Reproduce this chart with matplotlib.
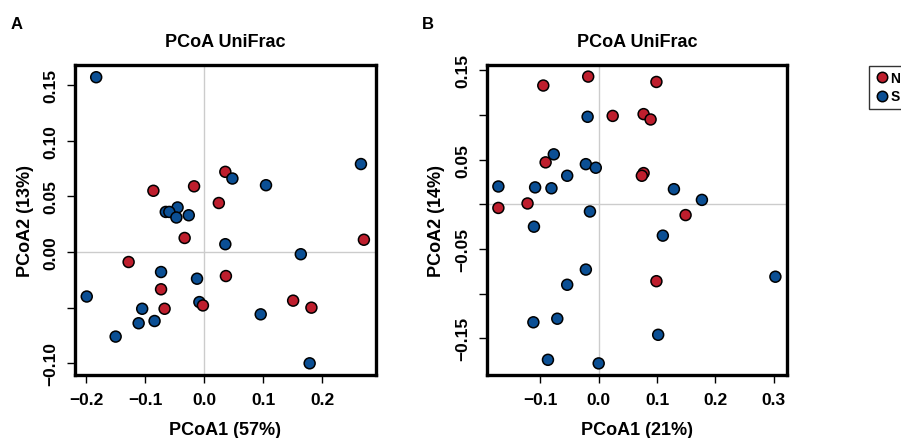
import matplotlib.pyplot as plt

plt.rcParams['font.family'] = ['Liberation Sans', 'DejaVu Sans']
plt.rcParams['font.weight'] = 'bold'

red = "#BE1E2D"
blue = "#0B4F94"

# panel A, points in plotting order (S = blue, N = red)
a_x = [0.036, -0.017, -0.086, 0.025, -0.033, 0.271, -0.128, 0.037, -0.073, 0.151, -0.067, 0.182,
       -0.183, 0.266, 0.048, 0.105, -0.045, -0.065, -0.059, -0.047, -0.026, 0.036, 0.164,
       -0.073, -0.012, -0.199, -0.008, -0.105, 0.096, -0.111, -0.084, -0.150, 0.179,
       -0.002]
a_y = [0.072, 0.059, 0.055, 0.044, 0.0126, 0.011, -0.009, -0.0216, -0.0335, -0.0437, -0.051, -0.050,
       0.157, 0.079, 0.066, 0.060, 0.040, 0.036, 0.036, 0.031, 0.033, 0.007, -0.002,
       -0.018, -0.024, -0.040, -0.045, -0.051, -0.056, -0.064, -0.062, -0.076, -0.100,
       -0.048]
a_g = ["N"] * 12 + ["S"] * 21 + ["N"]

# panel B
b_x = [-0.018, -0.095, 0.099, 0.024, 0.077, 0.089, -0.091, 0.077, 0.074, -0.122, -0.172, 0.149, 0.099,
       -0.019, -0.077, -0.022, -0.005, -0.054, -0.172, -0.109, -0.081, 0.129, 0.177, -0.015,
       -0.111, 0.110, -0.022, -0.054, 0.303, -0.071, -0.112, 0.102, -0.087, 0.000]
b_y = [0.143, 0.133, 0.137, 0.099, 0.101, 0.095, 0.047, 0.035, 0.032, 0.001, -0.004, -0.012, -0.086,
       0.098, 0.056, 0.045, 0.041, 0.032, 0.020, 0.019, 0.018, 0.017, 0.005, -0.008,
       -0.025, -0.035, -0.073, -0.090, -0.081, -0.128, -0.132, -0.146, -0.174, -0.178]
b_g = ["N"] * 13 + ["S"] * 21

panels = [
    dict(x=a_x, y=a_y, g=a_g, letter="A", xlab="PCoA1 (57%)", ylab="PCoA2 (13%)",
         xlim=(-0.219, 0.2915), ylim=(-0.1105, 0.168),
         xt=[-0.2, -0.1, 0.0, 0.1, 0.2], xtl=["\u22120.2", "\u22120.1", "0.0", "0.1", "0.2"],
         yt=[-0.10, -0.05, 0.0, 0.05, 0.10, 0.15],
         ytl=["\u22120.10", "", "0.00", "0.05", "0.10", "0.15"],
         rect=[0.0832, 0.1435, 0.3341, 0.7062]),
    dict(x=b_x, y=b_y, g=b_g, letter="B", xlab="PCoA1 (21%)", ylab="PCoA2 (14%)",
         xlim=(-0.192, 0.3234), ylim=(-0.191, 0.156),
         xt=[-0.1, 0.0, 0.1, 0.2, 0.3], xtl=["\u22120.1", "0.0", "0.1", "0.2", "0.3"],
         yt=[-0.15, -0.10, -0.05, 0.0, 0.05, 0.10, 0.15],
         ytl=["\u22120.15", "", "\u22120.05", "", "0.05", "", "0.15"],
         rect=[0.5402, 0.1435, 0.3336, 0.7062]),
]

fig = plt.figure(figsize=(9.01, 4.39), dpi=100)

for p in panels:
    ax = fig.add_axes(p["rect"])
    ax.axhline(0, color="#CCCCCC", lw=1, zorder=1)
    ax.axvline(0, color="#CCCCCC", lw=1, zorder=1)
    cols = [red if g == "N" else blue for g in p["g"]]
    ax.scatter(p["x"], p["y"], c=cols, s=62, edgecolors="black", linewidths=1.1, zorder=3)
    ax.set_xlim(p["xlim"])
    ax.set_ylim(p["ylim"])
    ax.set_xticks(p["xt"])
    ax.set_xticklabels(p["xtl"])
    ax.set_yticks(p["yt"])
    ax.set_yticklabels(p["ytl"], rotation=90, va="center")
    ax.tick_params(direction="out", length=6, width=1, labelsize=12.5, pad=6)
    for sp in ax.spines.values():
        sp.set_linewidth(2.4)
    ax.set_xlabel(p["xlab"], fontsize=13, fontweight="bold", labelpad=10)
    ax.set_ylabel(p["ylab"], fontsize=13, fontweight="bold", labelpad=7)
    ax.set_title("PCoA UniFrac", fontsize=13, fontweight="bold", pad=14)
    fig.text(p["rect"][0] - 0.072, 0.935, p["letter"], fontsize=12, fontweight="bold")

# legend, running off the right edge like the original
h_n = plt.Line2D([], [], marker="o", ls="", markerfacecolor=red, markeredgecolor="black",
                 markersize=7.5, markeredgewidth=1.1)
h_s = plt.Line2D([], [], marker="o", ls="", markerfacecolor=blue, markeredgecolor="black",
                 markersize=7.5, markeredgewidth=1.1)
fig.legend([h_n, h_s], ["N", "S"], loc="upper left", bbox_to_anchor=(0.9645, 0.848),
           frameon=True, fancybox=False, edgecolor="black", fontsize=10,
           handletextpad=0.15, borderpad=0.4, labelspacing=0.3, handlelength=1.0,
           borderaxespad=0)

fig.savefig("out.png", dpi=100)
